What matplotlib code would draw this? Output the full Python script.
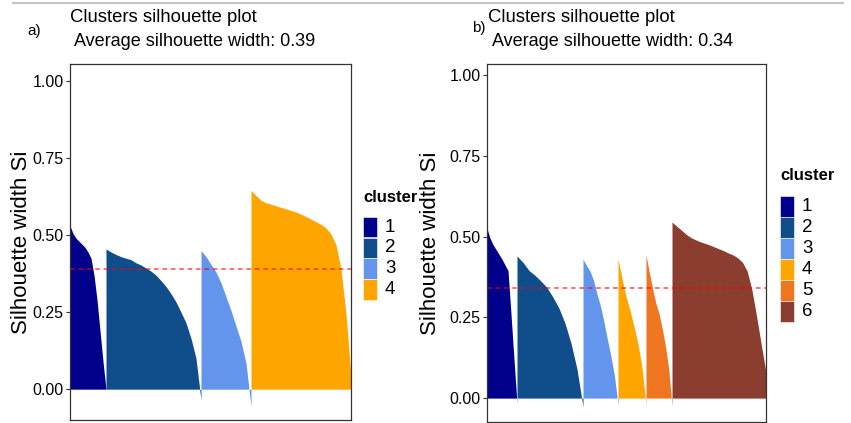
import numpy as np
import matplotlib.pyplot as plt
from matplotlib.patches import Rectangle
from matplotlib.lines import Line2D

W, H = 851, 423
plt.rcParams['font.family'] = ['Liberation Sans', 'DejaVu Sans']

cluster_colors = ['#00008B', '#104E8B', '#6495ED', '#FFA500', '#EE7621', '#8B3E2F']
cluster_names = ['1', '2', '3', '4', '5', '6']

# panel a) - 4 clusters, sorted silhouette widths
a_sizes = [36, 95, 50, 100]
a_c1 = [0.53, 0.505, 0.49, 0.48, 0.47, 0.46, 0.445, 0.425, 0.37, 0.29, 0.19, 0.09, 0.0]
a_c2 = [0.455, 0.445, 0.437, 0.43, 0.425, 0.42, 0.41, 0.403, 0.393, 0.383,
        0.37, 0.352, 0.333, 0.31, 0.283, 0.25, 0.215, 0.165, 0.10, -0.035]
a_c3 = [0.45, 0.43, 0.405, 0.38, 0.345, 0.30, 0.255, 0.205, 0.155, 0.085, -0.057]
a_c4 = [0.645, 0.628, 0.613, 0.605, 0.600, 0.595, 0.590, 0.585, 0.580, 0.575, 0.568,
        0.560, 0.552, 0.543, 0.535, 0.523, 0.503, 0.468, 0.39, 0.245, 0.04]
a_avg = 0.39

# panel b) - 6 clusters
b_sizes = [30, 66, 35, 28, 26, 94]
b_c1 = [0.525, 0.495, 0.475, 0.46, 0.445, 0.43, 0.412, 0.395, 0.26, 0.12, -0.016]
b_c2 = [0.44, 0.42, 0.395, 0.38, 0.362, 0.342, 0.312, 0.278, 0.232, 0.17, 0.09, -0.027]
b_c3 = [0.43, 0.41, 0.393, 0.365, 0.322, 0.285, 0.235, 0.18, 0.128, 0.068, -0.02]
b_c4 = [0.432, 0.37, 0.315, 0.272, 0.222, 0.168, 0.095, -0.02]
b_c5 = [0.443, 0.39, 0.34, 0.295, 0.262, 0.215, 0.16, 0.09, -0.025]
b_c6 = [0.545, 0.532, 0.52, 0.507, 0.497, 0.49, 0.484, 0.479, 0.474, 0.468, 0.462,
        0.456, 0.449, 0.443, 0.434, 0.42, 0.393, 0.335, 0.253, 0.165, 0.08]
b_avg = 0.34

y_ticks = [0.0, 0.25, 0.5, 0.75, 1.0]

fig = plt.figure(figsize=(W / 100, H / 100), dpi=100)


def fx(px):
    return px / W


def fy(py):
    return 1 - py / H


def panel(box, sizes, clusters, avg, ylim, label_x):
    l, t, r, b = box
    ax = fig.add_axes([fx(l), fy(b), fx(r) - fx(l), fy(t) - fy(b)])
    start = 0
    for k, (n, vals) in enumerate(zip(sizes, clusters)):
        x = np.linspace(start, start + n, len(vals))
        ax.fill_between(x, 0, vals, color=cluster_colors[k], lw=0)
        start += n
    ax.axhline(avg, color='red', ls=(0, (3, 2.5)), lw=1.1, alpha=0.7)
    ax.set_xlim(0, start)
    ax.set_ylim(*ylim)
    ax.set_xticks([])
    ax.set_yticks(y_ticks)
    ax.set_yticklabels(['%.2f' % v for v in y_ticks])
    ax.tick_params(axis='y', length=3, width=0.8, color='#333333',
                   labelsize=11.5, labelcolor='black', pad=1.5)
    for s in ax.spines.values():
        s.set_color('#333333')
        s.set_linewidth(0.9)
    ax.set_ylabel('Silhouette width Si', fontsize=16)
    ax.yaxis.set_label_coords(label_x, 0.5)
    return ax


def legend(x, y_title, y_keys, key_h, n):
    fig.text(fx(x), fy(y_title), 'cluster', fontsize=12, fontweight='bold',
             ha='left', va='center')
    for k in range(n):
        top = y_keys + k * key_h
        fig.add_artist(Rectangle((fx(x), fy(top + key_h)), fx(13.5), key_h / H,
                                 facecolor=cluster_colors[k], edgecolor='white',
                                 lw=0.4, transform=fig.transFigure))
        fig.text(fx(x + 22), fy(top + key_h / 2), cluster_names[k], fontsize=13.5,
                 ha='left', va='center')


panel((70, 64, 351, 420), a_sizes, [a_c1, a_c2, a_c3, a_c4], a_avg, (-0.10, 1.055), -0.135)
panel((487, 64, 766, 422), b_sizes, [b_c1, b_c2, b_c3, b_c4, b_c5, b_c6], b_avg,
      (-0.074, 1.034), -0.165)

# titles
for x0, avg in [(70.5, a_avg), (488, b_avg)]:
    fig.text(fx(x0), fy(18), 'Clusters silhouette plot', fontsize=13.3,
             ha='left', va='center')
    fig.text(fx(x0), fy(41.5), ' Average silhouette width: %.2f' % avg, fontsize=13,
             ha='left', va='center')
fig.text(fx(27), fy(31), 'a)', fontsize=11, ha='left', va='center')
fig.text(fx(472), fy(28), 'b)', fontsize=11, ha='left', va='center')

legend(363, 197, 216.7, 20.8, 4)
legend(780, 175, 195.7, 21.0, 6)

fig.add_artist(Line2D([fx(13), fx(843)], [fy(3), fy(3)], color='#c4c4c4', lw=1.5))

fig.savefig('out.png', dpi=100)
